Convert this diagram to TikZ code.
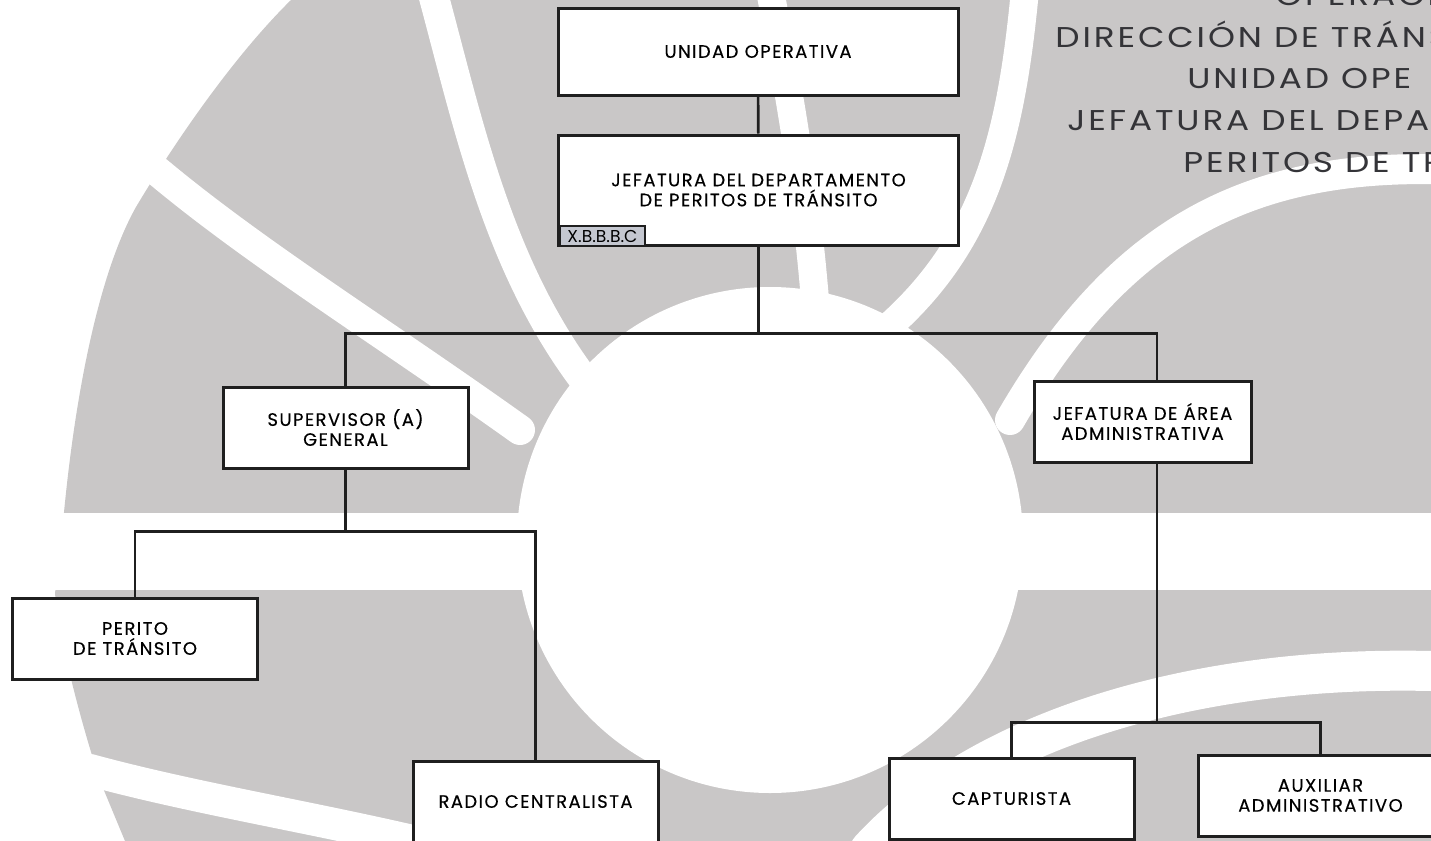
\documentclass[tikz,border=0pt]{standalone}
\usepackage{fontspec}
\setmainfont{Poppins}
\newfontfamily\boxfont{Poppins}[LetterSpace=8, FakeBold=0.3]
\newfontfamily\headfont{Poppins}[FakeStretch=1.2, LetterSpace=10]
\definecolor{watermark}{RGB}{201,199,199}
\definecolor{codefill}{RGB}{196,199,208}
\definecolor{headgrey}{RGB}{52,52,56}
\tikzset{
  orgbox/.style  = {shape=rectangle, draw=black!88, line width=1.5pt,
                    fill=white, align=center, inner sep=0pt,
                    font=\boxfont\fontsize{9}{10}\selectfont},
  topbox/.style  = {orgbox, minimum width=200pt},
  unitbox/.style = {orgbox, minimum width=122.5pt, minimum height=40.5pt},
  codebox/.style = {shape=rectangle, draw=black!88, line width=1pt,
                    fill=codefill, inner sep=0pt, minimum width=42.5pt,
                    minimum height=10pt, font=\fontsize{8.6}{9}\selectfont},
  header/.style  = {anchor=base west, inner sep=0pt, text=headgrey,
                    font=\headfont\fontsize{14.3}{16}\selectfont},
  conn/.style    = {draw=black!88, line width=1.3pt},
  gap/.style     = {draw=white, line width=#1, line cap=round}
}

\begin{document}
\begin{tikzpicture}[x=0.5pt, y=-0.5pt]
  \useasboundingbox (0,0) rectangle (1431,841);
  \clip (0,0) rectangle (1431,841);
  % watermark
  \fill[watermark] (291,0) -- (1431,0) -- (1431,841) -- (125,841) -- (103,788)
    .. controls (92,760) and (60,650) .. (55,593) -- (60,560)
    .. controls (70,420) and (95,280) .. (136,207)
    .. controls (170,150) and (230,60) .. (291,0) -- cycle;
  \draw[gap=15pt] (150,165) .. controls (250,250) and (380,330) .. (520,430);
  \draw[gap=15pt] (432,-10) .. controls (470,130) and (500,280) .. (600,400);
  \draw[gap=14pt] (770,-10) .. controls (790,100) and (810,200) .. (820,370);
  \draw[gap=14pt] (1025,-10) .. controls (1010,150) and (980,260) .. (860,350);
  \draw[gap=15pt] (1460,170) .. controls (1250,160) and (1120,230) .. (1010,420);
  \draw[gap=16pt] (90,770) .. controls (200,800) and (330,820) .. (450,850);
  \draw[gap=20pt] (870,850) .. controls (980,730) and (1200,660) .. (1460,672);
  \fill[white] (0,513) rectangle (1431,590);
  \fill[white] (770,540) circle[radius=126.5pt];

  \node[header] (hOper)  at (1275,5.5) {OPERACI};
  \node[header] (hDir)   at (1055,47)  {DIRECCIÓN DE TRÁNS};
  \node[header] (hUnid)  at (1187,88)  {UNIDAD OPE};
  \node[header] (hJef)   at (1067,130) {JEFATURA DEL DEPA};
  \node[header] (hPer)   at (1183,172) {PERITOS DE TR};

  \node[topbox, minimum height=43.5pt] (unidad)   at (758,51.5) {UNIDAD OPERATIVA};
  \node[topbox, minimum height=55pt]   (jefatura) at (758.5,190)
    {JEFATURA DEL DEPARTAMENTO\\DE PERITOS DE TRÁNSITO};
  \node[codebox] (clave) at (602.5,236) {X.B.B.B.C};
  \node[unitbox] (supervisor) at (345.5,427.5) {SUPERVISOR (A)\\GENERAL};
  \node[unitbox, minimum width=108.5pt] (jefarea) at (1142.5,421.5)
    {JEFATURA DE ÁREA\\ADMINISTRATIVA};
  \node[unitbox] (perito)     at (135,638.5)   {PERITO\\DE TRÁNSITO};
  \node[unitbox] (radio)      at (535.5,801.5) {RADIO CENTRALISTA};
  \node[unitbox] (capturista) at (1011.5,798.5) {CAPTURISTA};
  \node[unitbox] (auxiliar)   at (1320.5,795.5) {AUXILIAR\\ADMINISTRATIVO};

  \draw[conn] (unidad) -- (jefatura);
  \draw[conn] (jefatura.south) -- ++(0,87) coordinate (b1);
  \draw[conn] (supervisor.north) |- (b1) -| ([xshift=7.25pt]jefarea.north);
  \draw[conn] (supervisor.south) -- ++(0,62) coordinate (b2);
  \draw[conn] (perito.north) |- (b2) -| (radio.north);
  \draw[conn] ([xshift=7.25pt]jefarea.south) -- ++(0,259) coordinate (b3);
  \draw[conn] (capturista.north) |- (b3) -| (auxiliar.north);
\end{tikzpicture}
\end{document}
